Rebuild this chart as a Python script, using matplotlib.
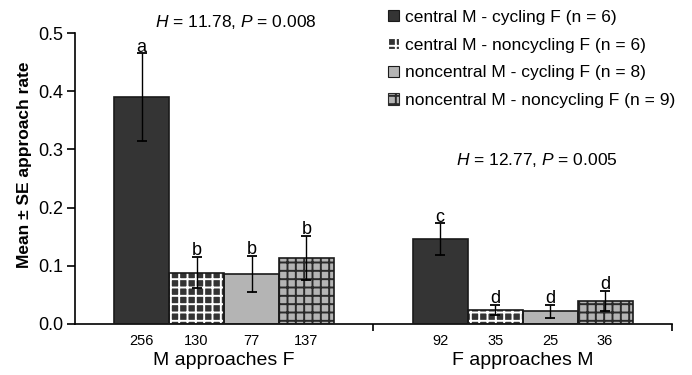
import matplotlib
matplotlib.use("Agg")
import matplotlib.pyplot as plt
from matplotlib.patches import Patch
import numpy as np

plt.rcParams['font.family'] = ['Liberation Sans', 'DejaVu Sans']
plt.rcParams['mathtext.fontset'] = 'custom'
plt.rcParams['mathtext.it'] = 'Liberation Sans:italic'
plt.rcParams['mathtext.rm'] = 'Liberation Sans'

groups = ["M approaches F", "F approaches M"]
series = ["central M - cycling F (n = 6)",
          "central M - noncycling F (n = 6)",
          "noncentral M - cycling F (n = 8)",
          "noncentral M - noncycling F (n = 9)"]
means = [[0.390, 0.088, 0.086, 0.114],
         [0.146, 0.024, 0.022, 0.040]]
ses = [[0.075, 0.027, 0.031, 0.038],
       [0.027, 0.009, 0.011, 0.017]]
n_labels = [["256", "130", "77", "137"],
            ["92", "35", "25", "36"]]
letters = [["a", "b", "b", "b"],
           ["c", "d", "d", "d"]]
stats = ["$H$ = 11.78, $P$ = 0.008",
         "$H$ = 12.77, $P$ = 0.005"]

faces = ["#343434", "#343434", "#b4b4b4", "#b4b4b4"]
hatch_cols = [None, "white", None, "#2a2a2a"]
hatches = [None, "++", None, "++"]

fig = plt.figure(figsize=(6.92, 3.75), dpi=100)
ax = fig.add_axes([0.108, 0.136, 0.863, 0.776])

width = 0.184
offsets = (np.arange(4) - 1.5) * width
centers = np.array([0.5, 1.5])

plt.rcParams['hatch.linewidth'] = 1.4
handles = []
for s in range(4):
    xs = centers + offsets[s]
    vals = [means[g][s] for g in range(2)]
    errs = [ses[g][s] for g in range(2)]
    if hatches[s]:
        ax.bar(xs, vals, width, color=faces[s], edgecolor=hatch_cols[s],
               hatch=hatches[s], linewidth=0, zorder=2)
    else:
        ax.bar(xs, vals, width, color=faces[s], linewidth=0, zorder=2)
    ax.bar(xs, vals, width, fill=False, edgecolor="#1a1a1a", linewidth=1.2, zorder=3)
    ax.errorbar(xs, vals, yerr=errs, fmt='none', ecolor='black', elinewidth=1.0,
                capsize=3.5, capthick=1.3, zorder=4)
    for g in range(2):
        ax.text(xs[g], vals[g] + errs[g] - 0.004, letters[g][s], ha='center',
                va='bottom', fontsize=13, zorder=5)
    handles.append(Patch(facecolor=faces[s], edgecolor=hatch_cols[s] or "#1a1a1a",
                         hatch=hatches[s], linewidth=0.8))

ax.set_xlim(0, 2)
ax.set_ylim(0, 0.5)
ax.set_yticks([0, 0.1, 0.2, 0.3, 0.4, 0.5])
ax.set_yticklabels(["0.0", "0.1", "0.2", "0.3", "0.4", "0.5"], fontsize=13)
ax.set_xticks([1.0, 2.0])
ax.set_xticklabels([])
ax.tick_params(axis='x', direction='out', length=5, width=1.2)
ax.tick_params(axis='y', direction='out', length=6, width=1.2, pad=2)
ax.spines['top'].set_visible(False)
ax.spines['right'].set_visible(False)
ax.spines['left'].set_linewidth(1.2)
ax.spines['bottom'].set_linewidth(1.2)

all_x = np.concatenate([centers[g] + offsets for g in range(2)])
all_n = n_labels[0] + n_labels[1]
ax.set_xticks(all_x, minor=True)
ax.set_xticklabels(all_n, minor=True, fontsize=10.5)
ax.tick_params(axis='x', which='minor', length=0, pad=7)

for g in range(2):
    ax.text(centers[g], -0.124, groups[g], ha='center', va='center', fontsize=14,
            transform=ax.get_xaxis_transform())

ax.set_ylabel("Mean \u00b1 SE approach rate", fontsize=12.5, fontweight='bold')
ax.yaxis.set_label_coords(-0.072, 0.546)

fig.text(236 / 692, 1 - 22 / 375, stats[0], ha='center', va='center', fontsize=12.5)
fig.text(537 / 692, 1 - 160 / 375, stats[1], ha='center', va='center', fontsize=12.5)

leg = fig.legend(handles, series, loc='upper left', bbox_to_anchor=(386 / 692, 1 - 8 / 375),
                 frameon=False, fontsize=12.5, handlelength=0.65, handleheight=0.65,
                 handletextpad=0.35, labelspacing=0.74, borderaxespad=0, borderpad=0.1)

fig.savefig("out.png", dpi=100)
